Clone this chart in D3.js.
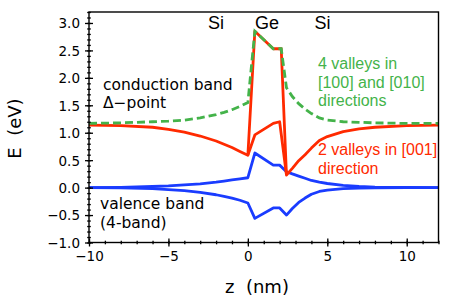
<!DOCTYPE html>
<html><head><meta charset="utf-8">
<script src="https://cdn.jsdelivr.net/npm/d3@7"></script>
<style>body{margin:0;background:#fff}svg{display:block}</style>
</head><body>
<svg id="c" width="463" height="301"></svg>
<script>
// ---- data ----
const xMajorTicks = [-10, -5, 0, 5, 10];
const yMajorTicks = [-1.0, -0.5, 0.0, 0.5, 1.0, 1.5, 2.0, 2.5, 3.0];

const zBands = [-10, -8, -6, -5, -4, -3, -2, -1.5, -1, -0.5, 0, 0.44, 1.6, 2.0, 2.43, 2.8, 3.2, 3.6, 4.0, 4.5, 5, 6, 7, 8, 10, 12];
const valenceUpper = [0.0, 0.005, 0.02, 0.03, 0.05, 0.07, 0.1, 0.12, 0.14, 0.16, 0.18, 0.63, 0.41, 0.41, 0.29, 0.25, 0.21, 0.17, 0.13, 0.1, 0.075, 0.04, 0.02, 0.01, 0.003, 0.0];
const valenceLower = [0.0, -0.005, -0.02, -0.035, -0.055, -0.085, -0.13, -0.16, -0.19, -0.23, -0.28, -0.56, -0.37, -0.37, -0.5, -0.38, -0.27, -0.19, -0.12, -0.07, -0.045, -0.02, -0.01, -0.005, 0.0, 0.0];
const cond2Valley = [1.14, 1.13, 1.10, 1.06, 1.01, 0.94, 0.85, 0.79, 0.73, 0.66, 0.59, 0.96, 1.17, 1.2, 0.23, 0.35, 0.49, 0.6, 0.72, 0.86, 0.93, 1.02, 1.07, 1.1, 1.13, 1.14];

const zGeUpper = [0.0, 0.44, 1.6, 2.1, 2.43];
const cond2ValleyGe = [0.59, 2.85, 2.53, 2.53, 0.23];

const z4Valley = [-10, -8, -6, -5, -4, -3, -2, -1.5, -1, -0.5, 0, 0.44, 1.6, 2.1, 2.43, 2.8, 3.2, 3.6, 4.0, 4.5, 5, 6, 7, 8, 10, 12];
const cond4Valley = [1.17, 1.18, 1.2, 1.21, 1.23, 1.27, 1.33, 1.37, 1.42, 1.48, 1.55, 2.85, 2.53, 2.53, 1.82, 1.66, 1.53, 1.43, 1.35, 1.27, 1.23, 1.2, 1.19, 1.18, 1.17, 1.17];

const layerLabels = [{t: "Si", z: -2.0}, {t: "Ge", z: 1.2}, {t: "Si", z: 4.7}];

// ---- chart ----
const svg = d3.select("#c");
const L = 89, R = 438.5, T = 12, B = 242.5;
const x = d3.scaleLinear().domain([-10, 12]).range([L, R]);
const y = d3.scaleLinear().domain([-1, 3.2]).range([B, T]);

const green = "#44b34a", red = "#ff2a00", blue = "#1a3cff";

const clip = svg.append("clipPath").attr("id", "pc").append("rect")
  .attr("x", L).attr("y", T).attr("width", R - L).attr("height", B - T);

const plot = svg.append("g").attr("clip-path", "url(#pc)");
const line = (zs, vs) => d3.line().x((d, i) => x(zs[i])).y(d => y(d))(vs);

plot.append("path").attr("d", line(zBands, valenceUpper)).attr("fill", "none").attr("stroke", blue).attr("stroke-width", 2.8).attr("stroke-linejoin", "round");
plot.append("path").attr("d", line(zBands, valenceLower)).attr("fill", "none").attr("stroke", blue).attr("stroke-width", 2.8).attr("stroke-linejoin", "round");
plot.append("path").attr("d", line(zBands, cond2Valley)).attr("fill", "none").attr("stroke", red).attr("stroke-width", 2.8).attr("stroke-linejoin", "round");
plot.append("path").attr("d", line(zGeUpper, cond2ValleyGe)).attr("fill", "none").attr("stroke", red).attr("stroke-width", 2.8).attr("stroke-linejoin", "round");
plot.append("path").attr("d", line(z4Valley, cond4Valley)).attr("fill", "none").attr("stroke", green).attr("stroke-width", 2.8).attr("stroke-dasharray", "8,4");

// frame
svg.append("rect").attr("x", L).attr("y", T).attr("width", R - L).attr("height", B - T)
  .attr("fill", "none").attr("stroke", "#000").attr("stroke-width", 1.4);

// axes
const fmtY = d3.format(".1f");
const xAx = svg.append("g").attr("transform", `translate(0,${B})`)
  .call(d3.axisBottom(x).tickValues(xMajorTicks).tickFormat(d3.format("d")).tickSizeOuter(0));
const xMinor = svg.append("g").attr("transform", `translate(0,${B})`)
  .call(d3.axisBottom(x).tickValues(d3.range(-10, 12.01, 1)).tickFormat("").tickSizeOuter(0));
const yAx = svg.append("g").attr("transform", `translate(${L},0)`)
  .call(d3.axisLeft(y).tickValues(yMajorTicks).tickFormat(fmtY).tickSizeOuter(0));
const yMinor = svg.append("g").attr("transform", `translate(${L},0)`)
  .call(d3.axisLeft(y).tickValues(d3.range(-1, 3.201, 0.1)).tickFormat("").tickSizeOuter(0));

[xAx, xMinor, yAx, yMinor].forEach(g => g.select(".domain").remove());
xAx.selectAll(".tick line").attr("y1", -4).attr("y2", 4).attr("stroke-width", 1.3);
xMinor.selectAll(".tick line").attr("y1", -1.8).attr("y2", 1.8).attr("stroke-width", 1.3);
yAx.selectAll(".tick line").attr("x1", -4).attr("x2", 4).attr("stroke-width", 1.3);
yMinor.selectAll(".tick line").attr("x1", -1.8).attr("x2", 1.8).attr("stroke-width", 1.3);
xAx.selectAll(".tick text").attr("y", 9).attr("dy", "0.71em")
  .attr("font-family", "DejaVu Sans").attr("font-size", 13.5).attr("fill", "#000");
yAx.selectAll(".tick text").attr("x", -9).attr("dy", "0.36em")
  .attr("font-family", "DejaVu Sans").attr("font-size", 13.5).attr("fill", "#000");

// axis titles
svg.append("text").attr("x", 257).attr("y", 293).attr("text-anchor", "middle")
  .attr("font-family", "DejaVu Sans").attr("font-size", 18).style("white-space", "pre").text("z  (nm)");
svg.append("text").attr("transform", "translate(21,128.5) rotate(-90)").attr("text-anchor", "middle")
  .attr("font-family", "DejaVu Sans").attr("font-size", 18).style("white-space", "pre").text("E  (eV)");

// layer labels
svg.selectAll("text.layer").data(layerLabels).enter().append("text").attr("class", "layer")
  .attr("x", d => x(d.z)).attr("y", 29).attr("text-anchor", "middle")
  .attr("font-family", "Liberation Sans").attr("font-size", 18).text(d => d.t);

// annotations
const ann = (lines, x0, y0, dy, color, fam, size) => {
  lines.forEach((t, i) => svg.append("text").attr("x", x0).attr("y", y0 + i * dy)
    .attr("font-family", fam).attr("font-size", size).attr("fill", color).text(t));
};
ann(["conduction band", "Δ−point"], 103, 90, 18, "#000", "DejaVu Sans", 15.5);
ann(["valence band", "(4-band)"], 100, 209, 19, "#000", "DejaVu Sans", 15.5);
ann(["4 valleys in", "[100] and [010]", "directions"], 318, 69, 18.5, green, "Liberation Sans", 16);
ann(["2 valleys in [001]", "direction"], 318, 155, 19, red, "Liberation Sans", 16);
</script>
</body></html>
